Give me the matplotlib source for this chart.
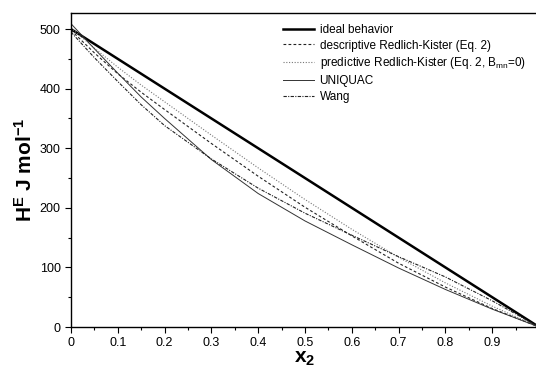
import matplotlib
matplotlib.use("Agg")
import matplotlib.pyplot as plt
import numpy as np

plt.rcParams['font.family'] = ['Liberation Sans', 'DejaVu Sans']
plt.rcParams['mathtext.fontset'] = 'custom'
plt.rcParams['mathtext.rm'] = 'Liberation Sans'
plt.rcParams['mathtext.it'] = 'Liberation Sans'
plt.rcParams['mathtext.bf'] = 'Liberation Sans:bold'

# mole fraction x2
x2 = [0, 0.05, 0.1, 0.15, 0.2, 0.3, 0.4, 0.5, 0.6, 0.7, 0.8, 0.9, 1.0]

# excess enthalpy, J/mol
ideal = [500, 475, 450, 425, 400, 350, 300, 250, 200, 150, 100, 50, 0]
descriptive_rk = [498, 460, 425, 394, 365, 308, 253, 201, 153, 107, 67, 31, 0]
predictive_rk = [502, 468, 436, 406, 378, 322, 267, 214, 164, 117, 74, 35, 0]
uniquac = [509, 467, 426, 386, 350, 281, 224, 178, 138, 99, 63, 30, 0]
wang = [495, 452, 412, 373, 338, 282, 233, 191, 154, 118, 84, 44, 0]

xticks = [0, 0.1, 0.2, 0.3, 0.4, 0.5, 0.6, 0.7, 0.8, 0.9]
xticklabels = ['0', '0.1', '0.2', '0.3', '0.4', '0.5', '0.6', '0.7', '0.8', '0.9']
yticks = [0, 100, 200, 300, 400, 500]

fig = plt.figure(figsize=(5.36, 3.71), dpi=100)
ax = fig.add_axes([71 / 536, 1 - 327 / 371, 468 / 536, 314 / 371])

ax.plot(x2, ideal, color='black', lw=1.8, label='ideal behavior')
ax.plot(x2, descriptive_rk, color='#222222', lw=0.8, ls=(0, (2.5, 2)),
        label='descriptive Redlich-Kister (Eq. 2)')
ax.plot(x2, predictive_rk, color='#777777', lw=0.8, ls=(0, (1, 1.5)),
        label='predictive Redlich-Kister (Eq. 2, $\\mathregular{B_{mn}}$=0)')
ax.plot(x2, uniquac, color='#333333', lw=0.7, label='UNIQUAC')
ax.plot(x2, wang, color='#222222', lw=0.8, ls=(0, (3, 1.2, 1, 1.2)), label='Wang')

ax.set_xlim(0, 1.0)
ax.set_ylim(0, 527)
ax.set_xticks(xticks)
ax.set_xticklabels(xticklabels)
ax.set_xticks(np.arange(0.05, 1.0, 0.1), minor=True)
ax.set_yticks(yticks)
ax.set_yticks(np.arange(50, 527, 100), minor=True)
ax.tick_params(which='both', direction='out', labelsize=9, width=0.8)
ax.tick_params(which='major', length=4)
ax.tick_params(which='minor', length=2.5)
for s in ax.spines.values():
    s.set_linewidth(1.0)

ax.set_ylabel('$\\mathbf{H^E}$ J mol$\\mathbf{^{-1}}$', fontsize=15, fontweight='bold', labelpad=3)
ax.set_xlabel('$\\mathbf{x_2}$', fontsize=15, fontweight='bold', labelpad=0)

leg = ax.legend(loc='upper left', bbox_to_anchor=(0.453, 0.966), frameon=False, fontsize=8.5,
                handlelength=2.6, handletextpad=0.5, labelspacing=0.33, borderaxespad=0,
                borderpad=0)

fig.savefig('out.png', dpi=100)
